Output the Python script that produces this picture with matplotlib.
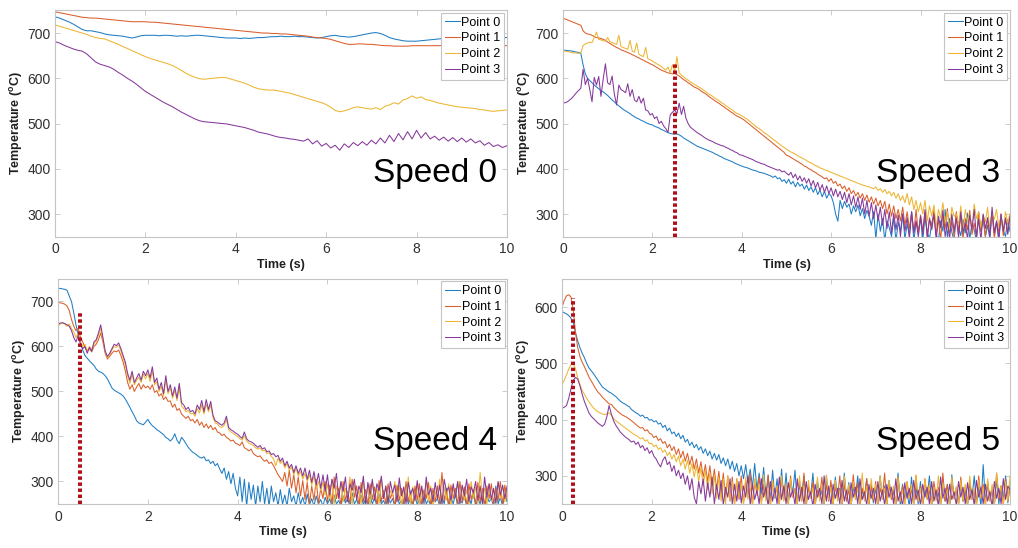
import numpy as np
import matplotlib
matplotlib.use('Agg')
import matplotlib.pyplot as plt

plt.rcParams['font.family'] = ['Liberation Sans', 'DejaVu Sans']
plt.rcParams['mathtext.fontset'] = 'custom'
plt.rcParams['mathtext.rm'] = 'Liberation Sans:bold'
plt.rcParams['mathtext.it'] = 'Liberation Sans:bold'
plt.rcParams['mathtext.bf'] = 'Liberation Sans:bold'

# ---------------- data ----------------
series_labels = ['Point 0', 'Point 1', 'Point 2', 'Point 3']
speed_labels = ['Speed 0', 'Speed 3', 'Speed 4', 'Speed 5']
time_speed0 = np.round(np.arange(0, 101) * 0.1, 2)   # s, 0.1 s steps
time_fast = np.round(np.arange(0, 201) * 0.05, 2)    # s, 0.05 s steps

speed0_point0 = [736, 733, 729, 725, 720, 714, 708, 705, 705, 703,
                 701, 698, 696, 695, 694, 693, 691, 689, 691, 694,
                 695, 695, 695, 694, 695, 695, 694, 693, 694, 693,
                 694, 695, 695, 694, 693, 692, 691, 690, 689, 689,
                 689, 688, 689, 688, 689, 690, 690, 691, 692, 692,
                 693, 692, 692, 693, 692, 692, 691, 690, 689, 690,
                 692, 694, 695, 693, 692, 691, 692, 694, 696, 698,
                 700, 701, 699, 695, 690, 687, 685, 683, 682, 682,
                 682, 683, 684, 685, 686, 687, 688, 689, 689, 690,
                 690, 690, 690, 691, 690, 690, 690, 691, 690, 690, 690]
speed0_point1 = [747, 745, 743, 741, 739, 737, 735, 734, 733, 733,
                 732, 731, 730, 729, 728, 727, 726, 725, 725, 725,
                 725, 724, 724, 723, 722, 721, 720, 719, 718, 717,
                 716, 715, 714, 713, 712, 711, 710, 709, 708, 707,
                 706, 705, 704, 703, 702, 701, 700, 700, 699, 699,
                 698, 698, 697, 696, 695, 694, 693, 691, 690, 689,
                 688, 686, 683, 680, 677, 675, 675, 676, 676, 675,
                 675, 674, 673, 672, 672, 671, 671, 671, 671, 672,
                 672, 672, 672, 672, 672, 672, 673, 673, 673, 673,
                 673, 673, 672, 672, 672, 672, 672, 672, 672, 672, 672]
speed0_point2 = [718, 715, 712, 709, 706, 703, 700, 697, 693, 690,
                 688, 687, 683, 679, 675, 670, 666, 661, 657, 652,
                 648, 644, 641, 638, 635, 632, 628, 623, 617, 611,
                 606, 602, 599, 598, 599, 600, 601, 602, 601, 598,
                 595, 592, 589, 585, 580, 577, 575, 574, 574, 573,
                 571, 569, 567, 564, 561, 558, 555, 552, 549, 546,
                 542, 536, 529, 526, 528, 531, 535, 537, 535, 533,
                 532, 535, 531, 538, 541, 546, 543, 552, 555, 561,
                 556, 559, 553, 551, 548, 545, 543, 541, 539, 537,
                 536, 535, 534, 533, 531, 530, 528, 527, 528, 529, 530]
speed0_point3 = [681, 678, 673, 669, 665, 662, 660, 654, 645, 636,
                 631, 628, 625, 620, 613, 607, 600, 594, 587, 579,
                 571, 565, 559, 553, 547, 542, 537, 531, 525, 520,
                 515, 510, 506, 504, 503, 502, 501, 500, 499, 497,
                 495, 493, 491, 488, 485, 481, 479, 477, 474, 471,
                 469, 468, 466, 465, 463, 461, 466, 455, 462, 450,
                 456, 446, 452, 441, 455, 447, 458, 451, 460, 452,
                 463, 455, 468, 457, 474, 460, 478, 464, 482, 466,
                 485, 468, 480, 466, 472, 463, 470, 461, 469, 460,
                 468, 459, 466, 457, 462, 452, 458, 449, 453, 447, 451]

speed3_point0 = [662, 662, 661, 661, 660, 659, 658, 657, 655, 630, 610, 600, 595, 590, 585, 581, 577, 573, 570, 566,
                 562, 557, 552, 548, 543, 539, 535, 531, 528, 525, 522, 518, 515, 512, 510, 507, 505, 502, 500, 498,
                 497, 494, 492, 490, 487, 485, 482, 480, 478, 477, 477, 477, 475, 472, 468, 465, 462, 459, 456, 453,
                 450, 448, 446, 444, 442, 440, 438, 436, 433, 431, 428, 426, 423, 421, 419, 417, 415, 412, 410, 408,
                 406, 404, 403, 401, 399, 397, 396, 394, 392, 391, 390, 388, 386, 384, 381, 384, 378, 380, 372, 376,
                 368, 377, 366, 372, 360, 370, 362, 366, 355, 364, 352, 360, 348, 358, 343, 353, 338, 350, 335, 345,
                 340, 325, 300, 284, 330, 312, 328, 315, 322, 300, 318, 305, 320, 296, 312, 290, 308, 295, 275, 305,
                 245, 300, 262, 290, 240, 285, 270, 250, 292, 240, 282, 262, 300, 245, 278, 255, 305, 240, 282, 262,
                 290, 242, 295, 260, 245, 280, 300, 255, 240, 285, 262, 310, 248, 290, 260, 240, 300, 270, 252, 288,
                 258, 302, 245, 278, 265, 240, 305, 262, 290, 250, 275, 245, 300, 258, 282, 240, 295, 265, 250, 288,
                 262]
speed3_point1 = [733, 731, 729, 727, 725, 723, 721, 719, 717, 705, 700, 698, 697, 695, 692, 690, 689, 688, 686, 684,
                 680, 677, 674, 671, 668, 666, 663, 661, 659, 657, 655, 652, 650, 647, 645, 642, 640, 637, 635, 632,
                 630, 627, 624, 621, 618, 616, 614, 612, 611, 610, 610, 608, 605, 601, 597, 594, 590, 587, 583, 580,
                 578, 575, 571, 568, 565, 561, 557, 554, 550, 547, 544, 540, 537, 533, 530, 526, 523, 519, 516, 514,
                 511, 508, 504, 500, 496, 492, 488, 484, 480, 476, 472, 468, 464, 460, 456, 452, 448, 444, 440, 436,
                 430, 428, 425, 422, 419, 416, 413, 410, 406, 404, 400, 398, 394, 392, 388, 385, 382, 378, 380, 372,
                 378, 368, 372, 362, 366, 356, 362, 350, 358, 345, 352, 340, 348, 335, 345, 330, 342, 326, 338, 322,
                 335, 318, 330, 312, 328, 300, 322, 295, 318, 290, 310, 285, 315, 275, 305, 268, 300, 260, 310, 255,
                 298, 262, 305, 250, 292, 270, 310, 255, 288, 245, 300, 268, 312, 258, 285, 250, 305, 262, 295, 245,
                 290, 265, 308, 255, 280, 248, 302, 262, 295, 250, 288, 270, 305, 245, 282, 260, 300, 252, 292, 258,
                 298]
speed3_point2 = [660, 660, 659, 658, 657, 656, 656, 655, 656, 672, 676, 678, 680, 679, 690, 702, 686, 685, 683, 682,
                 690, 681, 679, 677, 675, 695, 670, 668, 666, 664, 684, 660, 658, 678, 653, 650, 648, 668, 643, 641,
                 638, 635, 632, 629, 626, 622, 618, 625, 612, 630, 615, 648, 612, 607, 603, 599, 596, 592, 589, 586,
                 583, 580, 577, 573, 570, 566, 563, 560, 556, 553, 550, 546, 543, 539, 536, 532, 529, 525, 522, 520,
                 517, 514, 511, 507, 503, 499, 495, 491, 488, 484, 480, 477, 473, 469, 465, 462, 458, 454, 450, 447,
                 443, 440, 437, 435, 432, 429, 426, 424, 421, 418, 415, 413, 410, 407, 405, 402, 400, 398, 396, 394,
                 392, 390, 388, 386, 384, 382, 380, 378, 376, 374, 372, 370, 368, 366, 364, 363, 361, 360, 358, 356,
                 360, 352, 356, 348, 354, 345, 350, 340, 348, 335, 345, 330, 340, 325, 345, 320, 338, 310, 330, 305,
                 325, 300, 330, 285, 318, 295, 320, 270, 310, 290, 325, 280, 305, 265, 315, 295, 300, 275, 318, 260,
                 310, 285, 300, 268, 322, 290, 305, 270, 298, 282, 315, 260, 300, 288, 310, 272, 295, 265, 305, 280,
                 300]
speed3_point3 = [545, 546, 548, 552, 556, 562, 568, 573, 578, 620, 586, 600, 575, 548, 602, 585, 604, 560, 598, 632,
                 590, 586, 605, 565, 541, 585, 575, 572, 568, 588, 560, 575, 552, 548, 560, 545, 556, 530, 528, 519,
                 522, 511, 515, 500, 505, 495, 489, 480, 519, 525, 530, 522, 545, 520, 538, 512, 500, 492, 488, 484,
                 480, 477, 474, 470, 467, 464, 462, 460, 457, 455, 453, 451, 450, 447, 445, 442, 440, 437, 435, 431,
                 430, 428, 426, 424, 422, 420, 417, 415, 413, 411, 410, 407, 405, 403, 401, 399, 397, 398, 393, 395,
                 390, 386, 392, 380, 388, 375, 384, 372, 380, 368, 378, 362, 374, 358, 370, 352, 365, 348, 362, 345,
                 358, 340, 355, 338, 350, 332, 348, 325, 345, 320, 340, 315, 338, 310, 335, 300, 330, 295, 325, 290,
                 320, 285, 315, 275, 310, 268, 305, 258, 302, 265, 298, 250, 300, 262, 292, 245, 305, 258, 285, 250,
                 295, 255, 310, 248, 288, 265, 300, 242, 295, 270, 308, 250, 282, 245, 300, 262, 290, 248, 305, 258,
                 280, 245, 298, 265, 310, 250, 288, 242, 300, 268, 292, 250, 315, 258, 285, 245, 300, 262, 290, 255,
                 295]

speed4_point0 = [729, 729, 728, 727, 725, 712, 700, 675, 648, 625, 608, 592, 580, 574, 568, 563, 558, 550, 545, 543,
                 540, 535, 528, 518, 508, 503, 500, 497, 494, 490, 483, 474, 465, 455, 446, 435, 430, 428, 426, 432,
                 438, 430, 424, 420, 415, 412, 408, 404, 398, 395, 390, 395, 406, 392, 384, 398, 392, 384, 376, 370,
                 365, 362, 358, 354, 352, 355, 346, 348, 340, 345, 335, 340, 328, 318, 330, 305, 322, 295, 318, 285,
                 268, 310, 255, 305, 245, 298, 260, 292, 245, 290, 255, 300, 250, 285, 245, 290, 255, 275, 245, 282,
                 250, 270, 245, 285, 255, 268, 245, 275, 250, 265, 245, 272, 248, 262, 245, 268, 250, 260, 245, 265,
                 250, 262, 245, 270, 250, 258, 245, 268, 252, 262, 245, 275, 250, 260, 245, 270, 248, 262, 245, 268,
                 250, 265, 245, 272, 250, 258, 245, 268, 252, 262, 245, 270, 250, 258, 245, 275, 250, 262, 245, 268,
                 248, 262, 245, 278, 250, 260, 245, 270, 255, 262, 245, 268, 250, 285, 245, 265, 250, 272, 245, 260,
                 252, 270, 245, 265, 250, 280, 245, 262, 250, 275, 245, 268, 255, 262, 245, 290, 250, 265, 245, 270,
                 255]
speed4_point1 = [698, 697, 696, 694, 690, 680, 660, 645, 635, 640, 620, 610, 598, 590, 595, 588, 600, 605, 615, 630,
                 610, 585, 572, 578, 585, 590, 588, 592, 580, 565, 545, 520, 505, 515, 500, 510, 518, 505, 515, 508,
                 512, 505, 515, 498, 502, 490, 495, 482, 488, 478, 479, 465, 472, 458, 462, 450, 445, 440, 445, 435,
                 438, 430, 438, 425, 432, 420, 428, 418, 425, 415, 420, 410, 408, 402, 405, 398, 395, 390, 392, 385,
                 383, 380, 388, 375, 372, 368, 372, 362, 358, 355, 357, 350, 345, 348, 340, 343, 335, 325, 315, 308,
                 300, 320, 290, 325, 285, 315, 275, 310, 268, 302, 260, 298, 250, 290, 258, 305, 250, 285, 262, 300,
                 255, 292, 248, 310, 262, 285, 245, 300, 258, 278, 250, 305, 265, 290, 245, 298, 255, 282, 248, 295,
                 260, 288, 245, 302, 255, 280, 250, 295, 262, 275, 245, 292, 258, 285, 248, 300, 255, 278, 245, 290,
                 258, 295, 248, 282, 262, 298, 245, 285, 255, 290, 250, 320, 258, 280, 245, 292, 262, 285, 248, 300,
                 255, 288, 245, 295, 260, 282, 248, 298, 255, 285, 245, 290, 262, 295, 250, 285, 258, 300, 248, 292,
                 260]
speed4_point2 = [645, 650, 652, 650, 645, 650, 640, 632, 620, 630, 610, 600, 605, 590, 600, 592, 605, 612, 625, 640,
                 615, 588, 575, 582, 592, 600, 598, 603, 590, 575, 558, 535, 518, 538, 515, 525, 532, 520, 538, 528,
                 540, 522, 545, 515, 522, 500, 512, 490, 525, 495, 508, 485, 502, 480, 510, 468, 462, 455, 458, 450,
                 452, 445, 462, 452, 470, 450, 472, 455, 470, 442, 430, 428, 422, 420, 425, 438, 415, 410, 407, 403,
                 400, 395, 392, 402, 390, 385, 383, 380, 375, 372, 375, 368, 370, 362, 364, 356, 350, 335, 352, 340,
                 346, 330, 340, 325, 332, 315, 330, 312, 322, 305, 318, 300, 315, 292, 312, 285, 300, 280, 298, 270,
                 295, 262, 305, 250, 290, 270, 300, 255, 285, 265, 310, 248, 292, 262, 280, 250, 302, 258, 288, 245,
                 298, 265, 285, 250, 305, 262, 290, 248, 280, 270, 300, 255, 292, 245, 285, 262, 310, 250, 288, 258,
                 295, 248, 282, 265, 300, 255, 290, 245, 278, 262, 305, 250, 288, 258, 295, 245, 285, 268, 300, 252,
                 290, 258, 282, 245, 300, 262, 288, 250, 320, 265, 285, 248, 295, 258, 282, 250, 298, 262, 290, 255,
                 285]
speed4_point3 = [650, 652, 653, 651, 648, 645, 635, 620, 610, 625, 605, 595, 600, 585, 598, 590, 610, 615, 630, 648,
                 620, 590, 578, 585, 595, 605, 602, 608, 595, 580, 565, 540, 525, 545, 520, 530, 540, 525, 545, 535,
                 548, 530, 555, 520, 530, 505, 520, 495, 535, 500, 515, 490, 510, 485, 518, 475, 470, 460, 465, 455,
                 458, 450, 470, 460, 480, 455, 482, 460, 478, 448, 435, 432, 428, 425, 430, 445, 420, 415, 412, 408,
                 405, 400, 396, 410, 395, 390, 388, 385, 380, 376, 380, 372, 375, 366, 368, 360, 362, 355, 358, 345,
                 352, 335, 345, 330, 338, 320, 335, 318, 330, 312, 330, 305, 325, 298, 322, 292, 318, 285, 315, 278,
                 315, 270, 305, 285, 318, 262, 300, 278, 310, 255, 295, 280, 305, 260, 290, 275, 312, 250, 298, 270,
                 305, 258, 295, 280, 312, 262, 290, 250, 300, 275, 292, 255, 308, 268, 288, 250, 298, 272, 285, 258,
                 302, 265, 290, 250, 310, 270, 285, 255, 298, 262, 292, 250, 305, 278, 288, 258, 295, 265, 300, 250,
                 292, 268, 305, 255, 288, 275, 300, 258, 290, 250, 310, 265, 295, 260, 285, 252, 300, 270, 292, 262,
                 290]

speed5_point0 = [592, 590, 588, 585, 580, 572, 555, 540, 528, 518, 510, 500, 492, 487, 482, 476, 470, 464, 458, 455,
                 452, 449, 447, 444, 441, 437, 433, 430, 428, 425, 423, 418, 415, 412, 410, 406, 408, 403, 404, 399,
                 400, 396, 398, 392, 394, 386, 390, 380, 385, 375, 378, 370, 376, 366, 372, 360, 365, 354, 360, 350,
                 356, 346, 352, 340, 348, 336, 344, 330, 340, 328, 338, 322, 332, 318, 330, 312, 326, 308, 322, 300,
                 318, 295, 320, 288, 312, 280, 322, 275, 305, 268, 315, 262, 300, 255, 310, 260, 295, 250, 312, 258,
                 305, 252, 290, 270, 310, 248, 285, 262, 300, 250, 280, 265, 305, 245, 292, 258, 275, 250, 300, 262,
                 285, 248, 298, 260, 278, 250, 305, 255, 288, 245, 280, 262, 300, 250, 275, 258, 295, 245, 285, 252,
                 278, 250, 300, 258, 282, 245, 292, 262, 275, 250, 305, 248, 285, 260, 272, 245, 298, 255, 280, 250,
                 290, 245, 275, 262, 300, 250, 282, 258, 270, 248, 295, 255, 285, 245, 302, 260, 278, 250, 292, 255,
                 275, 248, 288, 260, 300, 250, 282, 245, 320, 255, 285, 262, 275, 248, 295, 250, 282, 258, 300, 252,
                 285]
speed5_point1 = [600, 612, 620, 622, 618, 595, 555, 528, 512, 502, 494, 485, 476, 469, 462, 455, 449, 445, 440, 436,
                 432, 428, 427, 422, 418, 414, 411, 408, 406, 404, 401, 398, 395, 391, 388, 385, 386, 380, 382, 376,
                 374, 368, 371, 363, 366, 358, 361, 350, 356, 345, 352, 338, 348, 332, 344, 326, 340, 320, 335, 312,
                 330, 305, 325, 298, 320, 290, 318, 282, 312, 275, 308, 268, 305, 260, 300, 255, 298, 250, 295, 258,
                 300, 250, 292, 262, 305, 248, 288, 270, 298, 252, 285, 260, 302, 245, 290, 265, 280, 250, 295, 258,
                 285, 248, 300, 262, 278, 250, 292, 255, 305, 245, 282, 260, 290, 250, 275, 262, 298, 248, 285, 255,
                 292, 250, 280, 262, 300, 248, 285, 255, 275, 250, 302, 258, 288, 245, 278, 260, 295, 250, 282, 255,
                 290, 248, 278, 262, 305, 250, 285, 258, 272, 245, 298, 255, 282, 250, 290, 262, 275, 248, 300, 255,
                 282, 250, 295, 258, 275, 245, 290, 262, 280, 250, 305, 255, 285, 248, 292, 260, 278, 250, 298, 255,
                 280, 248, 292, 258, 275, 250, 300, 262, 285, 245, 290, 255, 278, 250, 305, 258, 282, 248, 295, 255,
                 280]
speed5_point2 = [462, 470, 480, 490, 498, 500, 490, 475, 462, 452, 445, 438, 432, 426, 421, 417, 414, 412, 410, 409,
                 410, 412, 408, 402, 398, 395, 392, 389, 386, 383, 380, 377, 374, 372, 369, 366, 368, 362, 364, 357,
                 358, 352, 355, 347, 350, 342, 346, 336, 342, 330, 338, 325, 335, 318, 330, 312, 328, 305, 322, 298,
                 318, 290, 315, 282, 310, 275, 305, 268, 302, 260, 298, 255, 295, 250, 300, 258, 290, 248, 295, 262,
                 288, 250, 298, 258, 280, 248, 295, 265, 285, 250, 302, 255, 278, 248, 292, 262, 282, 250, 300, 255,
                 285, 250, 295, 262, 275, 248, 300, 255, 282, 250, 292, 260, 278, 245, 298, 255, 285, 250, 302, 258,
                 280, 248, 292, 255, 275, 250, 300, 262, 285, 245, 290, 258, 278, 250, 305, 255, 282, 248, 295, 260,
                 285, 250, 300, 258, 278, 245, 292, 262, 282, 250, 298, 255, 275, 248, 290, 260, 285, 250, 302, 255,
                 278, 248, 295, 260, 285, 250, 280, 255, 300, 245, 288, 262, 275, 250, 298, 258, 282, 248, 292, 255,
                 285, 250, 300, 258, 278, 248, 292, 260, 280, 250, 295, 255, 285, 248, 305, 262, 282, 250, 290, 255,
                 300]
speed5_point3 = [420, 422, 425, 438, 455, 470, 475, 472, 460, 445, 432, 422, 412, 406, 402, 398, 394, 391, 388, 392,
                 405, 425, 410, 398, 390, 384, 378, 374, 370, 367, 364, 360, 362, 356, 360, 350, 354, 345, 350, 340,
                 345, 335, 330, 322, 316, 328, 334, 320, 325, 308, 318, 300, 310, 295, 305, 285, 300, 275, 295, 262,
                 250, 290, 268, 295, 255, 288, 262, 298, 250, 285, 258, 292, 248, 280, 262, 295, 250, 285, 255, 290,
                 252, 282, 262, 300, 248, 285, 258, 275, 250, 295, 262, 280, 245, 290, 255, 278, 250, 298, 258, 282,
                 250, 288, 262, 275, 248, 295, 255, 280, 250, 290, 258, 272, 245, 285, 262, 278, 250, 300, 255, 282,
                 248, 285, 260, 278, 250, 292, 255, 275, 245, 288, 262, 280, 250, 295, 258, 272, 248, 285, 260, 278,
                 250, 290, 255, 275, 248, 285, 262, 280, 250, 295, 255, 272, 245, 288, 260, 278, 250, 292, 258, 275,
                 248, 285, 262, 280, 250, 290, 255, 275, 245, 298, 260, 278, 250, 285, 258, 272, 248, 290, 262, 280,
                 250, 288, 258, 275, 248, 292, 262, 280, 250, 285, 255, 272, 245, 290, 260, 278, 250, 295, 258, 282,
                 275]

# vertical red dotted markers (time, top temperature) per panel
marker_times = [None, 2.5, 0.5, 0.25]
marker_tops = [None, 636, 674, 616]
y_limits = [(250, 750), (250, 750), (250, 750), (250, 650)]
y_tick_values = [[300, 400, 500, 600, 700]] * 3 + [[300, 400, 500, 600]]
x_tick_values = [0, 2, 4, 6, 8, 10]

# ---------------- styling ----------------
line_colors = ['#1F7DC4', '#DB5E2A', '#EDB532', '#86399A']
box_color = '#c4c4c4'
panel_positions = [
    [0.0540, 0.5682, 0.4440, 0.4128],
    [0.5530, 0.5682, 0.4391, 0.4128],
    [0.0570, 0.0803, 0.4411, 0.4106],
    [0.5521, 0.0803, 0.4401, 0.4106],
]

panel_times = [time_speed0, time_fast, time_fast, time_fast]
panel_series = [
    [speed0_point0, speed0_point1, speed0_point2, speed0_point3],
    [speed3_point0, speed3_point1, speed3_point2, speed3_point3],
    [speed4_point0, speed4_point1, speed4_point2, speed4_point3],
    [speed5_point0, speed5_point1, speed5_point2, speed5_point3],
]

fig = plt.figure(figsize=(10.18, 5.48), dpi=100)

for k in range(4):
    ax = fig.add_axes(panel_positions[k])
    t = panel_times[k]
    for vals, col, lab in zip(panel_series[k], line_colors, series_labels):
        ax.plot(t, vals, color=col, lw=0.75, label=lab, zorder=2)
    if marker_times[k] is not None:
        ax.plot([marker_times[k], marker_times[k]], [y_limits[k][0], marker_tops[k]],
                color='#B0101A', lw=2.9, linestyle=(0, (0.85, 0.65)),
                dash_capstyle='butt', zorder=3)
    ax.set_xlim(0, 10)
    ax.set_ylim(*y_limits[k])
    ax.set_xticks(x_tick_values)
    ax.set_yticks(y_tick_values[k])
    ax.tick_params(direction='in', top=True, right=True, length=3.5, width=0.6,
                   color=box_color, labelcolor='#303030', labelsize=10)
    ax.tick_params(axis='x', pad=4)
    ax.tick_params(axis='y', pad=3)
    for sp in ax.spines.values():
        sp.set_color(box_color)
        sp.set_linewidth(0.8)
    ax.set_xlabel('Time (s)', fontsize=9, fontweight='bold', color='#202020', labelpad=2)
    ax.set_ylabel(r'Temperature ($^{\rm o}$C)', fontsize=9, fontweight='bold',
                  color='#202020', labelpad=2)
    ax.text(0.977, 0.24, speed_labels[k], transform=ax.transAxes, ha='right',
            va='baseline', fontsize=24, color='black', zorder=5)
    leg = ax.legend(loc='upper right', bbox_to_anchor=(1.0, 1.0), fontsize=9,
                    frameon=True, fancybox=False, framealpha=1.0, edgecolor=box_color,
                    handlelength=1.2, handletextpad=0.15, borderpad=0.3,
                    labelspacing=0.3, borderaxespad=0.2)
    leg.get_frame().set_linewidth(0.8)
    leg.set_zorder(6)

fig.savefig('out.png', dpi=100)
